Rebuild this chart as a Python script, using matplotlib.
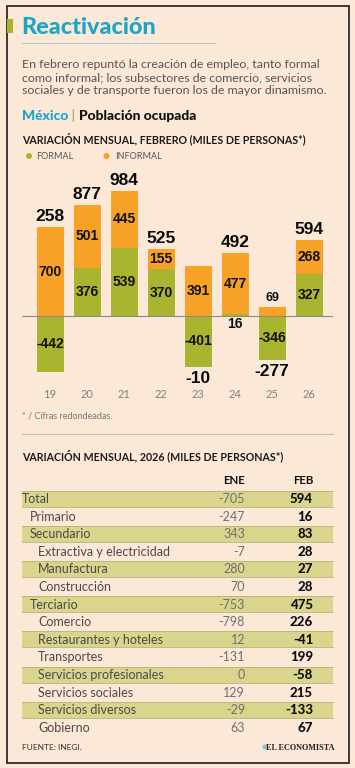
import matplotlib.pyplot as plt
from matplotlib.patches import Rectangle, Circle

# === Data ===
years = ["19", "20", "21", "22", "23", "24", "25", "26"]
formal = [-442, 376, 539, 370, -401, 16, -346, 327]
informal = [700, 501, 445, 155, 391, 477, 69, 268]
totals = [258, 877, 984, 525, -10, 492, -277, 594]

rows = ["Total", "Primario", "Secundario", "Extractiva y electricidad",
        "Manufactura", "Construcción", "Terciario", "Comercio",
        "Restaurantes y hoteles", "Transportes", "Servicios profesionales",
        "Servicios sociales", "Servicios diversos", "Gobierno"]
levels = [0, 1, 1, 2, 2, 2, 1, 2, 2, 2, 2, 2, 2, 2]
ene = [-705, -247, 343, -7, 280, 70, -753, -798, 12, -131, 0, 129, -29, 63]
feb = [594, 16, 83, 28, 27, 28, 475, 226, -41, 199, -58, 215, -133, 67]

# === Style ===
BG = "#fce8d7"
TEAL = "#1ba5c8"
GREEN = "#a9b42f"
ORANGE = "#f7a126"
BAND = "#d9d58c"
GRAY = "#555555"
BODY = ["Lato", "DejaVu Sans"]
NARROW = ["Liberation Sans Narrow", "DejaVu Sans Condensed", "Liberation Sans", "DejaVu Sans"]
HEAVY = ["Liberation Sans", "DejaVu Sans"]

W, H = 355, 768
fig = plt.figure(figsize=(W / 100, H / 100), dpi=100)
fig.patch.set_facecolor(BG)

# background axes in pixel coordinates (y down)
bg = fig.add_axes([0, 0, 1, 1])
bg.set_xlim(0, W)
bg.set_ylim(H, 0)
bg.axis("off")
bg.set_zorder(0)

# frame
bg.add_patch(Rectangle((6.5, 5.5), 342.5, 757, fill=False, ec="#2b2b2b", lw=1.3))

# === Header ===
bg.add_patch(Rectangle((7, 19), 6, 14, color=GREEN, lw=0))
bg.text(21, 33.5, "Reactivación", color=TEAL, fontsize=16.8, fontweight="black",
        family=BODY, va="baseline")
bg.plot([22, 215], [43, 43], color="#b9c6cc", lw=0.8)
para = ["En febrero repuntó la creación de empleo, tanto formal",
        "como informal; los subsectores de comercio, servicios",
        "sociales y de transporte fueron los de mayor dinamismo."]
for i, line in enumerate(para):
    bg.text(22, 67.5 + i * 13.5, line, color=GRAY, fontsize=8.9, family=BODY,
            va="baseline")

t1 = bg.text(22, 120, "México", color=TEAL, fontsize=10, fontweight="black",
             family=BODY, va="baseline")
t2 = bg.annotate(" | ", xycoords=t1, xy=(1, 0), va="bottom", fontsize=10,
                 color="#999999", family=BODY)
bg.annotate("Población ocupada", xycoords=t2, xy=(1, 0), va="bottom",
            fontsize=10, fontweight="black", family=BODY, color="#111111")

bg.text(22, 143.5, "VARIACIÓN MENSUAL, FEBRERO (MILES DE PERSONAS*)",
        color="#1a1a1a", fontsize=7.7, fontweight="bold", family=BODY, va="baseline")

bg.add_patch(Circle((29, 156), 3, color=GREEN, lw=0))
bg.text(36, 156.5, "FORMAL", color=GRAY, fontsize=6.5, family=BODY, va="center")
bg.add_patch(Circle((106.5, 156), 3, color=ORANGE, lw=0))
bg.text(115, 156.5, "INFORMAL", color=GRAY, fontsize=6.5, family=BODY, va="center")

# === Bar chart ===
# axes spans pixels x 22..333, y 170..400; zero line at y=316
upp = 1 / 0.127  # data units per pixel
ax = fig.add_axes([22 / W, 1 - 400 / H, 311 / W, 230 / H])
ax.set_zorder(1)
ax.patch.set_alpha(0)
ax.set_xlim((22 - 50) / 37, (333 - 50) / 37)
ax.set_ylim(-(400 - 316) * upp, (316 - 170) * upp)
ax.axis("off")

x = list(range(len(years)))
bw = 27 / 37
ax.bar(x, formal, width=bw, color=GREEN, lw=0, zorder=2)
inf_bottom = [f if f > 0 else 0 for f in formal]
ax.bar(x, informal, bottom=inf_bottom, width=bw, color=ORANGE, lw=0, zorder=2)
ax.axhline(0, color="#8a8a8a", lw=0.8, zorder=3)

seg_kw = dict(ha="center", va="center", fontsize=10, fontweight="bold",
              family=NARROW, color="#111111", zorder=4)
for i in x:
    f, inf, tot = formal[i], informal[i], totals[i]
    # formal label
    if abs(f) > 60:
        ax.text(i, f / 2, str(f), **seg_kw)
    else:
        ax.annotate(str(f), (i, 0), xytext=(0, -8), textcoords="offset pixels",
                    **seg_kw)
    # informal label
    b = inf_bottom[i]
    if inf > 100:
        ax.text(i, b + inf / 2, str(inf), **seg_kw)
    else:
        ax.annotate(str(inf), (i, b + inf), xytext=(0, 9), textcoords="offset pixels",
                    **{**seg_kw, "fontsize": 9})
    # total label
    top = b + inf
    bottom = min(f, 0)
    if tot >= 0:
        ax.annotate(str(tot), (i, top), xytext=(0, 3), textcoords="offset pixels",
                    ha="center", va="bottom", fontsize=12.5, fontweight="bold",
                    family=HEAVY, color="#0a0a0a")
    else:
        ax.annotate(str(tot), (i, bottom), xytext=(0, -4), textcoords="offset pixels",
                    ha="center", va="top", fontsize=12.5, fontweight="bold",
                    family=HEAVY, color="#0a0a0a")

for i, yr in enumerate(years):
    ax.text(i, -(394 - 316) * upp, yr, ha="center", va="center", fontsize=8,
            color="#808080", family=BODY)

bg.text(22, 416, "* / Cifras redondeadas.", color="#777777", fontsize=6.5,
        family=BODY, va="center")
bg.plot([22, 333], [434, 434], color="#bbbbbb", lw=0.8)

# === Table ===
bg.text(22, 460, "VARIACIÓN MENSUAL, 2026 (MILES DE PERSONAS*)",
        color="#1a1a1a", fontsize=7.7, fontweight="bold", family=BODY, va="baseline")
bg.text(245, 481, "ENE", ha="right", va="center", fontsize=8.3, fontweight="bold",
        family=BODY, color="#111111")
bg.text(313, 481, "FEB", ha="right", va="center", fontsize=8.3, fontweight="bold",
        family=BODY, color="#111111")

y0, pitch = 498.5, 17.6
for i, name in enumerate(rows):
    yc = y0 + i * pitch
    if i % 2 == 0:
        bg.add_patch(Rectangle((22, yc - 8), 311, 16, fc=BAND, ec="none", lw=0))
        bg.plot([22, 333], [yc - 8, yc - 8], color="#b9b27e", lw=0.6)
        bg.plot([22, 333], [yc + 8, yc + 8], color="#b9b27e", lw=0.6)
    bg.text(22 + levels[i] * 8, yc + 0.5, name, va="center", fontsize=9,
            family=BODY, color="#4a4a4a")
    bg.text(245, yc + 0.5, str(ene[i]), ha="right", va="center", fontsize=9,
            family=BODY, color="#707070")
    bg.text(313, yc + 0.5, str(feb[i]), ha="right", va="center", fontsize=9.5,
            family=BODY, fontweight="black", color="#111111")

bg.text(22, 747, "FUENTE: INEGI.", color="#333333", fontsize=6, family=BODY,
        va="center")
bg.add_patch(Circle((265, 747), 2.5, color="#8fc1c9", lw=0))
bg.text(335, 747.5, "EL ECONOMISTA", ha="right", va="center", fontsize=5.9,
        fontweight="bold", family=["Liberation Serif", "DejaVu Serif"], color="#222222")

fig.savefig("out.png", dpi=100, facecolor=BG)
